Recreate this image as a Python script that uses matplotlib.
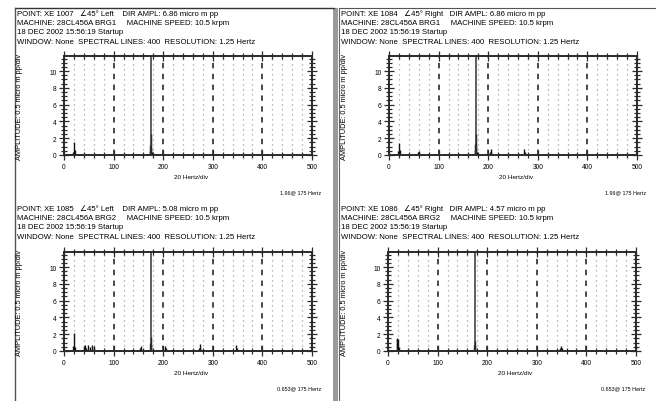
import matplotlib
matplotlib.use('Agg')
import matplotlib.pyplot as plt
from matplotlib.lines import Line2D
from matplotlib.patches import Rectangle

W, H = 656, 402

# header lines for each panel
headers = [
    ["POINT: XE 1007   \u222045\u00b0 Left    DIR AMPL: 6.86 micro m pp",
     "MACHINE: 28CL456A BRG1     MACHINE SPEED: 10.5 krpm",
     "18 DEC 2002 15:56:19 Startup",
     "WINDOW: None  SPECTRAL LINES: 400  RESOLUTION: 1.25 Hertz"],
    ["POINT: XE 1084   \u222045\u00b0 Right   DIR AMPL: 6.86 micro m pp",
     "MACHINE: 28CL456A BRG1     MACHINE SPEED: 10.5 krpm",
     "18 DEC 2002 15:56:19 Startup",
     "WINDOW: None  SPECTRAL LINES: 400  RESOLUTION: 1.25 Hertz"],
    ["POINT: XE 1085   \u222045\u00b0 Left    DIR AMPL: 5.08 micro m pp",
     "MACHINE: 28CL456A BRG2     MACHINE SPEED: 10.5 krpm",
     "18 DEC 2002 15:56:19 Startup",
     "WINDOW: None  SPECTRAL LINES: 400  RESOLUTION: 1.25 Hertz"],
    ["POINT: XE 1086   \u222045\u00b0 Right   DIR AMPL: 4.57 micro m pp",
     "MACHINE: 28CL456A BRG2     MACHINE SPEED: 10.5 krpm",
     "18 DEC 2002 15:56:19 Startup",
     "WINDOW: None  SPECTRAL LINES: 400  RESOLUTION: 1.25 Hertz"],
]
ylabels = ["AMPLITUDE: 0.5 micro m pp/div"] * 4
xlabel = "20 Hertz/div"
footers = ["1.96@ 175 Hertz", "1.96@ 175 Hertz", "0.653@ 175 Hertz", "0.653@ 175 Hertz"]
cursor_hz = 175

# spectral peaks (Hz, micro m pp)
freq_tl = [18.75, 20, 21.25, 172.5, 173.75, 175, 176.25, 177.5]
amp_tl = [0.4, 1.5, 0.6, 0.5, 1.2, 2.5, 1.0, 0.4]
freq_tr = [18.75, 20, 21.25, 58.75, 60, 172.5, 173.75, 175, 176.25, 177.5, 203.75, 205, 206.25, 272.5, 273.75]
amp_tr = [0.5, 1.4, 0.6, 0.3, 0.5, 0.6, 1.3, 2.5, 1.1, 0.4, 0.3, 0.7, 0.3, 0.7, 0.4]
freq_bl = [18.75, 20, 21.25, 40, 42.5, 45, 48.75, 52.5, 56.25, 60, 153.75, 155, 173.75, 175, 176.25,
           203.75, 205, 272.5, 273.75, 275, 347.5, 348.75]
amp_bl = [0.6, 2.1, 0.5, 0.6, 0.7, 0.4, 0.7, 0.5, 0.7, 0.6, 0.3, 0.6, 0.9, 1.7, 0.8,
          0.6, 0.4, 0.4, 0.8, 0.4, 0.7, 0.4]
freq_br = [17.5, 18.75, 20, 21.25, 173.75, 175, 176.25, 347.5, 348.75, 350]
amp_br = [1.4, 1.5, 1.4, 0.5, 0.7, 1.2, 0.6, 0.3, 0.6, 0.3]
freqs = [freq_tl, freq_tr, freq_bl, freq_br]
amps = [amp_tl, amp_tr, amp_bl, amp_br]

plt.rcParams['font.family'] = ['Liberation Sans', 'DejaVu Sans']

fig = plt.figure(figsize=(W / 100, H / 100), dpi=100)
fig.patch.set_facecolor('white')


def fx(x):
    return x / W


def fy(y):
    return 1 - y / H


# panel layout in pixels: (left, right, top, zero line)
boxes = [(64, 312, 57, 156), (389, 637, 57, 156), (64, 312, 253, 352), (388, 636, 253, 352)]
text_x = [17, 341, 17, 341]
text_y0 = [14, 14, 209, 209]
ylab_x = [20, 344, 20, 344]

for i in range(4):
    l, r, t, b = boxes[i]
    ax = fig.add_axes([fx(l), fy(b), (r - l) / W, (b - t) / H])
    ax.vlines(freqs[i], 0, amps[i], color='#111111', lw=1.0)
    ax.axvline(cursor_hz, color='#333333', lw=1.1)
    ax.set_xlim(0, 500)
    ax.set_ylim(0, 11.8)
    ax.set_xticks(range(0, 501, 100))
    ax.set_xticks(range(0, 501, 20), minor=True)
    ax.set_yticks(range(0, 11, 2))
    ax.set_yticks([v * 0.5 for v in range(24)], minor=True)
    ax.grid(axis='x', which='minor', ls=(0, (1, 3)), color='#a0a0a0', lw=0.9)
    ax.grid(axis='x', which='major', ls=(0, (3, 3)), color='#3a3a3a', lw=1.3)
    ax.tick_params(which='both', direction='inout', top=True, right=True,
                   labelsize=4.8, pad=2, color='#2a2a2a', width=0.9)
    ax.tick_params(which='major', length=7)
    ax.tick_params(which='minor', length=4)
    for s in ax.spines.values():
        s.set_color('#2a2a2a')
        s.set_linewidth(1.4)
    ax.set_axisbelow(True)

    for k, line in enumerate(headers[i]):
        fig.text(fx(text_x[i]), fy(text_y0[i] + k * 9.4), line, fontsize=5.6,
                 ha='left', va='center')
    fig.text(fx(ylab_x[i]), fy((t + b) / 2), ylabels[i], fontsize=5.3,
             rotation=90, ha='center', va='center')
    fig.text(fx((l + r) / 2 + 3), fy(b + 22), xlabel, fontsize=4.6, ha='center', va='center')
    fig.text(fx(r + 9), fy(b + 37), footers[i], fontsize=3.9, ha='right', va='center')

# window frame lines
fig.add_artist(Line2D([fx(15), fx(334)], [fy(9), fy(9)], color='#333333', lw=1.0))
fig.add_artist(Line2D([fx(15), fx(15)], [fy(9), fy(402)], color='#555555', lw=1.0))
fig.add_artist(Line2D([fx(339), fx(656)], [fy(9), fy(9)], color='#555555', lw=0.8))
fig.add_artist(Rectangle((fx(333), 0), 5 / W, fy(9), color='#9a9a9a', lw=0))
fig.add_artist(Line2D([fx(339), fx(339)], [fy(9), fy(402)], color='#666666', lw=0.8))

fig.savefig('out.png', dpi=100)
